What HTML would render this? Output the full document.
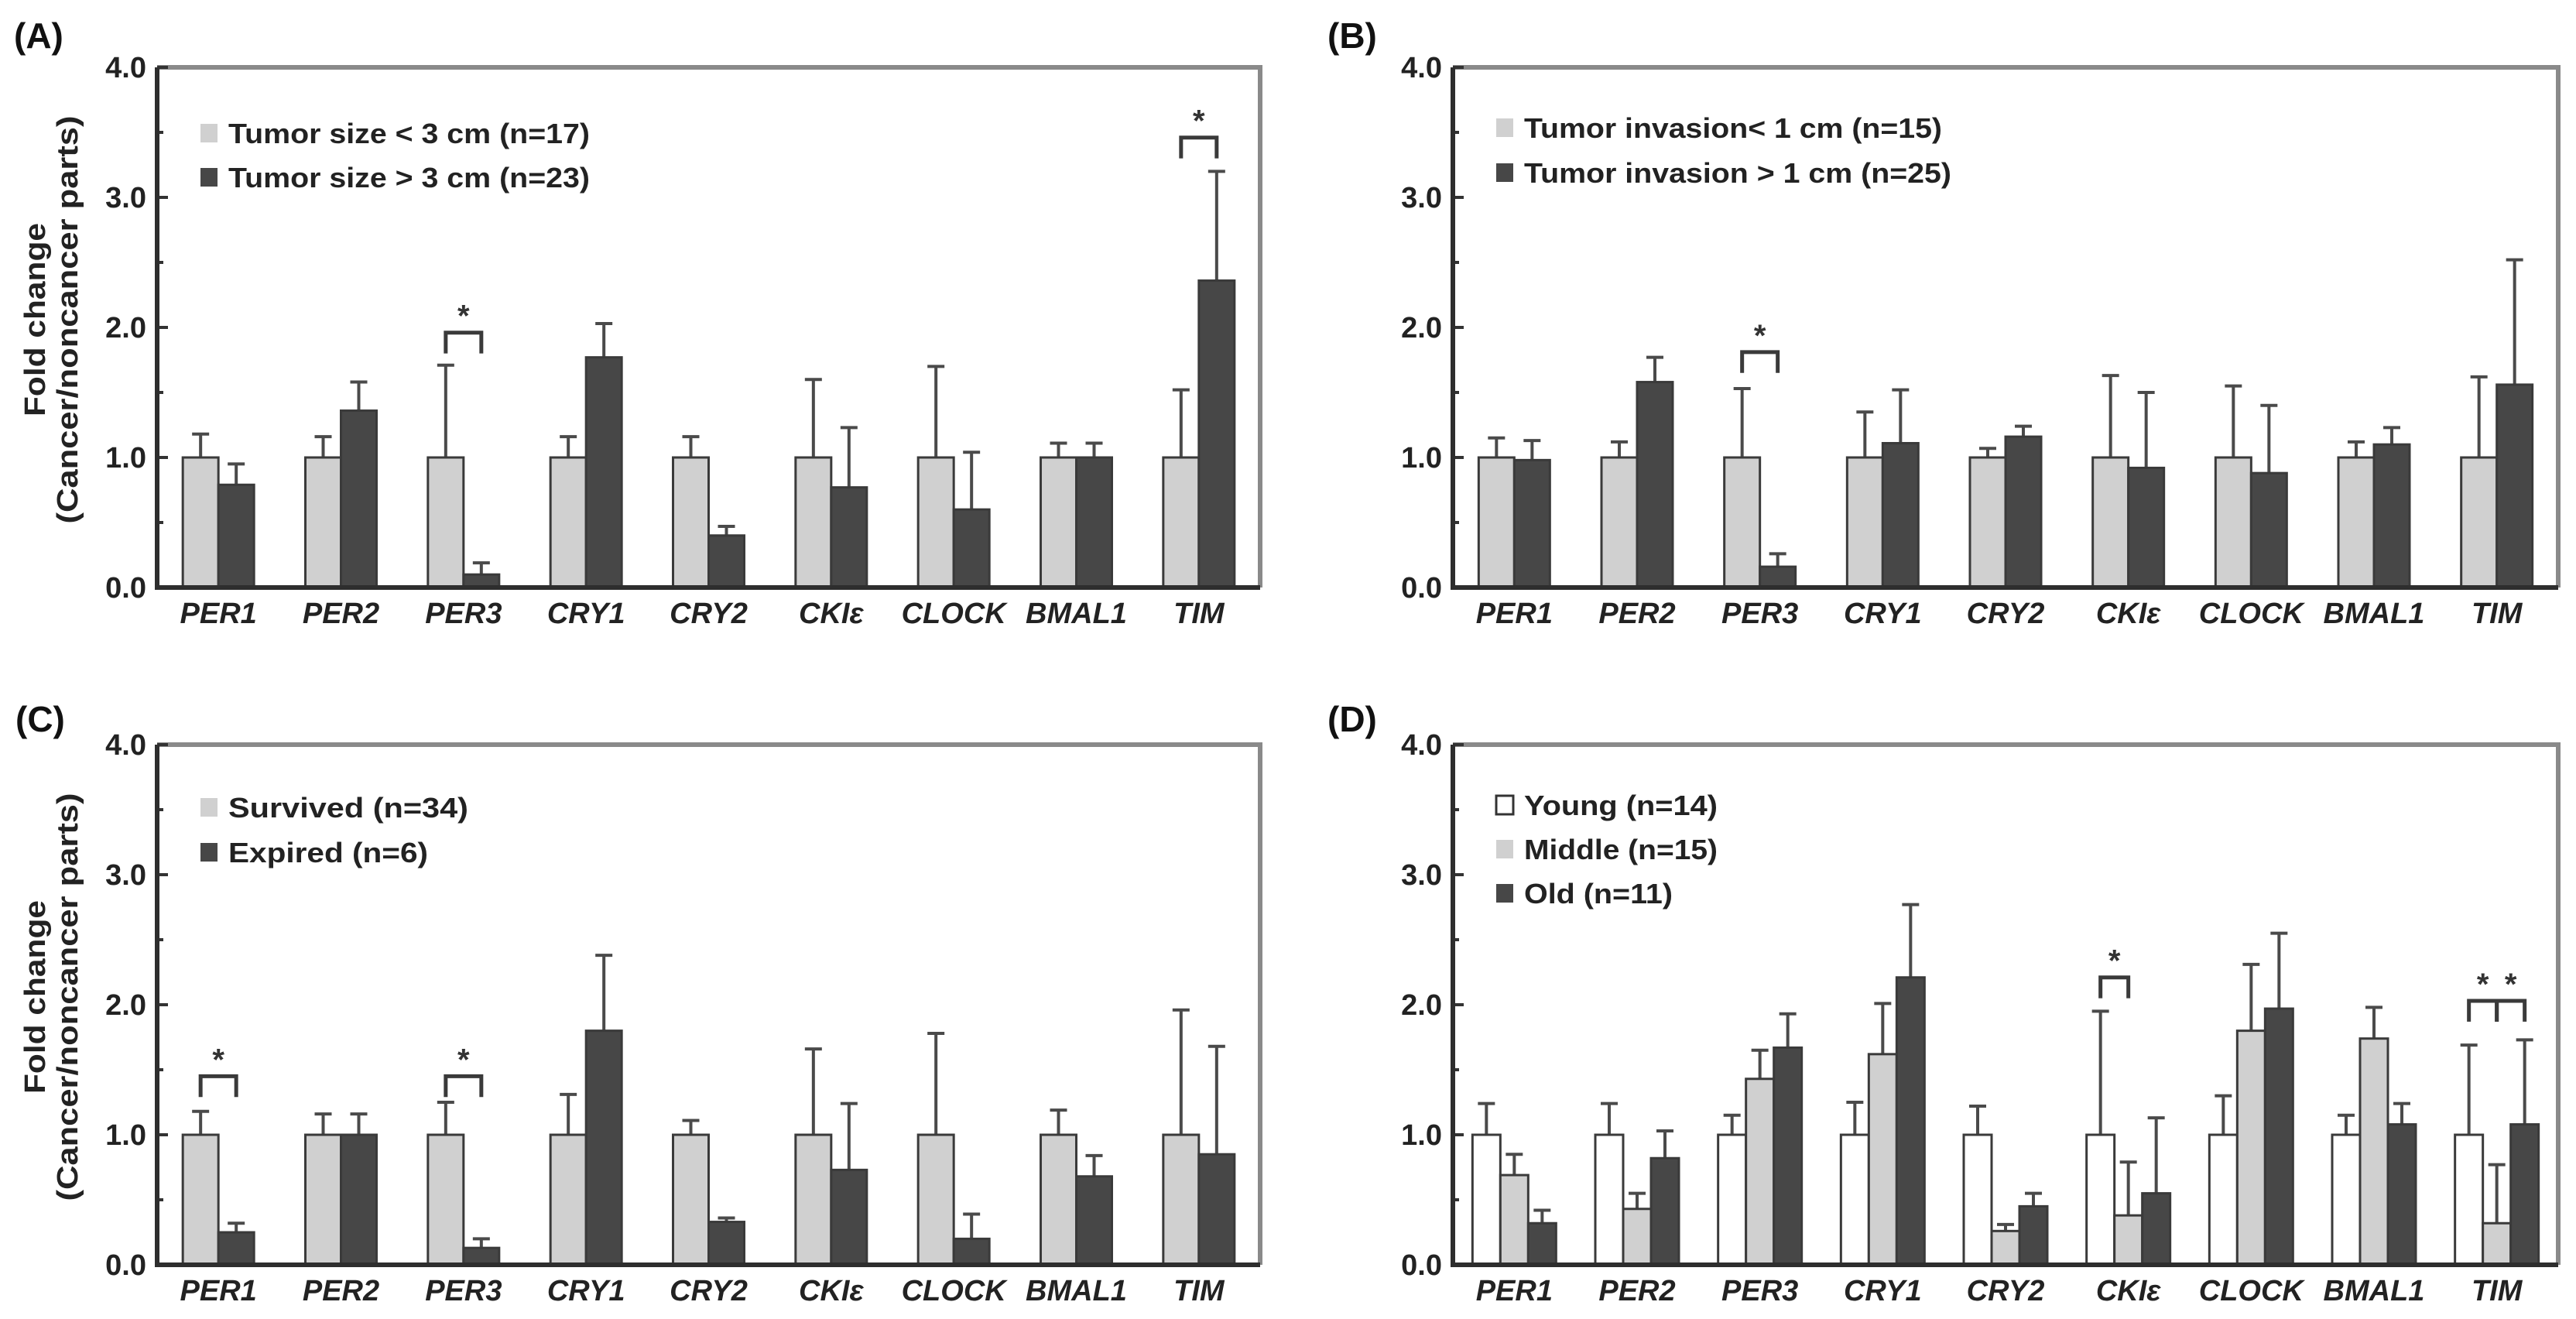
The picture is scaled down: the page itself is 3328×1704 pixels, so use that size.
<!DOCTYPE html>
<html><head><meta charset="utf-8"><title>Clock genes fold change</title>
<style>
html,body{margin:0;padding:0;background:#fff;}
svg{display:block;font-family:"Liberation Sans",Arial,sans-serif;}
</style></head>
<body>
<svg id="fig" width="3328" height="1704" viewBox="0 0 3328 1704" xmlns="http://www.w3.org/2000/svg"></svg>
<script>
// ---------- data ----------
const genes = ["PER1","PER2","PER3","CRY1","CRY2","CKI\u03B5","CLOCK","BMAL1","TIM"];
const yTicks = [0,1,2,3,4];
const yTickLabels = ["0.0","1.0","2.0","3.0","4.0"];

// Panel A
const aSmallVals = [1,1,1,1,1,1,1,1,1];
const aSmallErr  = [1.18,1.16,1.71,1.16,1.16,1.60,1.70,1.11,1.52];
const aLargeVals = [0.79,1.36,0.10,1.77,0.40,0.77,0.60,1.00,2.36];
const aLargeErr  = [0.95,1.58,0.19,2.03,0.47,1.23,1.04,1.11,3.20];
// Panel B
const bSmallVals = [1,1,1,1,1,1,1,1,1];
const bSmallErr  = [1.15,1.12,1.53,1.35,1.07,1.63,1.55,1.12,1.62];
const bLargeVals = [0.98,1.58,0.16,1.11,1.16,0.92,0.88,1.10,1.56];
const bLargeErr  = [1.13,1.77,0.26,1.52,1.24,1.50,1.40,1.23,2.52];
// Panel C
const cSurvVals = [1,1,1,1,1,1,1,1,1];
const cSurvErr  = [1.18,1.16,1.25,1.31,1.11,1.66,1.78,1.19,1.96];
const cExpVals  = [0.25,1.00,0.13,1.80,0.33,0.73,0.20,0.68,0.85];
const cExpErr   = [0.32,1.16,0.20,2.38,0.36,1.24,0.39,0.84,1.68];
// Panel D
const dYoungVals = [1,1,1,1,1,1,1,1,1];
const dYoungErr  = [1.24,1.24,1.15,1.25,1.22,1.95,1.30,1.15,1.69];
const dMidVals   = [0.69,0.43,1.43,1.62,0.26,0.38,1.80,1.74,0.32];
const dMidErr    = [0.85,0.55,1.65,2.01,0.31,0.79,2.31,1.98,0.77];
const dOldVals   = [0.32,0.82,1.67,2.21,0.45,0.55,1.97,1.08,1.08];
const dOldErr    = [0.42,1.03,1.93,2.77,0.55,1.13,2.55,1.24,1.73];

// significance brackets: [gene index, series i, series j, level]
const aSig = [[2,0,1,1.96],[8,0,1,3.46]];
const bSig = [[2,0,1,1.81]];
const cSig = [[0,0,1,1.45],[2,0,1,1.45]];
const dSig = [[5,0,1,2.21],[8,0,1,2.03],[8,1,2,2.03]];

// ---------- drawing ----------
const NS="http://www.w3.org/2000/svg";
const svg=document.getElementById('fig');
function mk(tag,attrs,parent){const e=document.createElementNS(NS,tag);for(const k in attrs)e.setAttribute(k,attrs[k]);(parent||svg).appendChild(e);return e;}

const fills=["#d0d0d0","#474747"];
function drawPanel(cfg){
  const g=mk('g',{});
  
  
  const L=cfg.left,R=cfg.right,Y0=cfg.y0,Y4=cfg.y4;
  const ys=v=>Y0-(Y0-Y4)*v/4;
  const band=(R-L)/genes.length;
  const xc=i=>L+band*(i+0.5);
  const nS=cfg.series.length;
  const bw=cfg.barW;
  const bx=(i,s)=>xc(i)-nS*bw/2+s*bw;

  // frame: top & right gray
  const fr=mk('path',{d:`M${L},${Y4} H${R} V${Y0}`,fill:'none',stroke:'#8a8a8a','stroke-width':6},g);
  
  

  // minor ticks / major ticks
  for(let v=0;v<=4;v+=0.5){
    const t=mk('line',{x1:L,x2:L+(v%1===0?14:8),y1:ys(v),y2:ys(v),stroke:'#333','stroke-width':4},g);
    
    
  }
  yTicks.forEach((v,k)=>{
    const t=mk('text',{x:L-14,y:ys(v)+13,'text-anchor':'end','font-size':38,'font-weight':'bold',fill:'#222'},g);
    t.textContent=yTickLabels[k];
    
    
  });

  // bars
  cfg.series.forEach((ser,s)=>{
    ser.vals.forEach((v,i)=>{
      const x=bx(i,s)+bw/2;
      const eb=mk('path',{d:`M${x},${ys(v)} V${ys(ser.err[i])} M${x-11},${ys(ser.err[i])} H${x+11}`,stroke:'#4a4a4a','stroke-width':4,fill:'none'},g);
      
      
      const r=mk('rect',{x:bx(i,s),y:ys(v),width:bw,height:Y0-ys(v),fill:ser.fill,stroke:'#3a3a3a','stroke-width':3},g);
      
      
    });
  });

  // axes left & bottom dark
  const ax=mk('path',{d:`M${L},${Y4} V${Y0} H${R}`,fill:'none',stroke:'#2e2e2e','stroke-width':6},g);
  
  

  // category labels
  genes.forEach((gn,i)=>{
    const t=mk('text',{x:xc(i),y:Y0+46,'text-anchor':'middle','font-size':38,'font-weight':'bold','font-style':'italic',fill:'#222'},g);
    t.textContent=gn;
    
    
  });

  // significance
  cfg.sig.forEach(sg=>{
    const x1=bx(sg[0],sg[1])+bw/2, x2=bx(sg[0],sg[2])+bw/2;
    const yt=ys(sg[3]), yl=ys(sg[3]-0.16);
    const p=mk('path',{d:`M${x1},${yl} V${yt} H${x2} V${yl}`,fill:'none',stroke:'#3a3a3a','stroke-width':5},g);
    
    
    const st=mk('text',{x:(x1+x2)/2,y:yt-8,'text-anchor':'middle','font-size':40,'font-weight':'bold',fill:'#333'},g);
    st.textContent='*';
    
    
  });

  // legend
  cfg.legend.forEach((lg,k)=>{
    const y=cfg.legY+k*cfg.legDy;
    const sq=mk('rect',{x:L+56,y:y-12,width:22,height:24,fill:lg.fill,stroke:lg.fill==='#ffffff'?'#333':'none','stroke-width':3},g);
    
    
    const t=mk('text',{x:L+92,y:y+13,'font-size':36,'font-weight':'bold',fill:'#222',textLength:lg.w,lengthAdjust:'spacingAndGlyphs'},g);
    t.textContent=lg.text;
    
    
  });

  // panel label
  const pl=mk('text',{x:cfg.labX,y:cfg.labY,'font-size':46,'font-weight':'bold',fill:'#111'},g);
  pl.textContent=cfg.label;
  
  

  // y-axis title
  if(cfg.ytitle){
    const cy=(Y0+Y4)/2-10;
    const t1=mk('text',{x:0,y:0,transform:`translate(58,${cy}) rotate(-90)`,'text-anchor':'middle','font-size':38,'font-weight':'bold',fill:'#222',textLength:250,lengthAdjust:'spacingAndGlyphs'},g);
    t1.textContent='Fold change';
    
    
    const t2=mk('text',{x:0,y:0,transform:`translate(100,${cy}) rotate(-90)`,'text-anchor':'middle','font-size':38,'font-weight':'bold',fill:'#222',textLength:527,lengthAdjust:'spacingAndGlyphs'},g);
    t2.textContent='(Cancer/noncancer parts)';
    
    
  }
}

drawPanel({name:'panel-a',label:'(A)',labX:18,labY:62,left:203,right:1628,y0:759,y4:87,barW:46,ytitle:true,
  series:[{key:'small',vals:aSmallVals,err:aSmallErr,fill:fills[0]},{key:'large',vals:aLargeVals,err:aLargeErr,fill:fills[1]}],
  sig:aSig,legY:172,legDy:57,
  legend:[{fill:fills[0],text:'Tumor size < 3 cm (n=17)',w:467},{fill:fills[1],text:'Tumor size > 3 cm (n=23)',w:467}]});
drawPanel({name:'panel-b',label:'(B)',labX:1715,labY:62,left:1877,right:3305,y0:759,y4:87,barW:46,ytitle:false,
  series:[{key:'small',vals:bSmallVals,err:bSmallErr,fill:fills[0]},{key:'large',vals:bLargeVals,err:bLargeErr,fill:fills[1]}],
  sig:bSig,legY:165,legDy:58,
  legend:[{fill:fills[0],text:'Tumor invasion< 1 cm (n=15)',w:540},{fill:fills[1],text:'Tumor invasion > 1 cm (n=25)',w:552}]});
drawPanel({name:'panel-c',label:'(C)',labX:20,labY:945,left:203,right:1628,y0:1634,y4:962,barW:46,ytitle:true,
  series:[{key:'survived',vals:cSurvVals,err:cSurvErr,fill:fills[0]},{key:'expired',vals:cExpVals,err:cExpErr,fill:fills[1]}],
  sig:cSig,legY:1043,legDy:58,
  legend:[{fill:fills[0],text:'Survived (n=34)',w:310},{fill:fills[1],text:'Expired (n=6)',w:258}]});
drawPanel({name:'panel-d',label:'(D)',labX:1715,labY:945,left:1877,right:3305,y0:1634,y4:962,barW:36,ytitle:false,
  series:[{key:'young',vals:dYoungVals,err:dYoungErr,fill:'#ffffff'},{key:'middle',vals:dMidVals,err:dMidErr,fill:fills[0]},{key:'old',vals:dOldVals,err:dOldErr,fill:fills[1]}],
  sig:dSig,legY:1040,legDy:57,
  legend:[{fill:'#ffffff',text:'Young (n=14)',w:250},{fill:fills[0],text:'Middle (n=15)',w:250},{fill:fills[1],text:'Old (n=11)',w:192}]});
</script>
</body></html>
